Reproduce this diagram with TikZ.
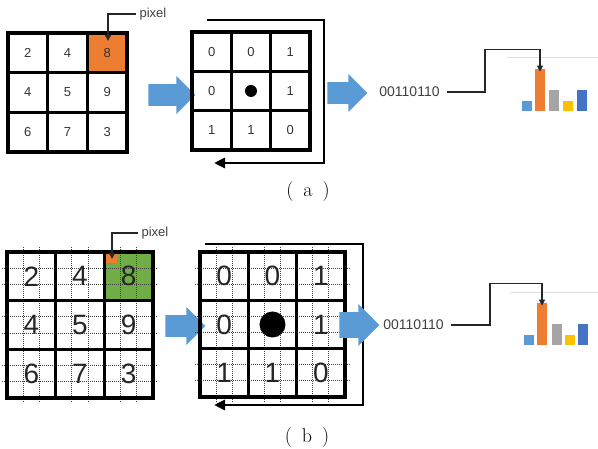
\documentclass[tikz,border=0pt]{standalone}
\usepackage{fontspec}
\setsansfont{Liberation Sans}
\usetikzlibrary{arrows.meta,shapes.arrows}
\definecolor{flowblue}{RGB}{91,155,213}
\definecolor{cellorange}{RGB}{237,125,49}
\definecolor{cellgreen}{RGB}{112,173,71}
\definecolor{bargray}{RGB}{165,165,165}
\definecolor{baryellow}{RGB}{255,192,0}
\definecolor{bardeep}{RGB}{68,114,196}
\definecolor{inkgray}{RGB}{64,64,64}

\tikzset{
  gridline/.style={line width=3.2pt, line cap=rect},
  subline/.style={densely dotted, line width=1pt, black!75},
  numsmall/.style={font=\sffamily\fontsize{13}{13}\selectfont, text=black!80},
  numbig/.style={font=\sffamily\fontsize{28}{28}\selectfont, text=black!85},
  tag/.style={font=\sffamily\fontsize{13}{13}\selectfont, text=inkgray},
  leader/.style={line width=1.6pt, black!85, -{Triangle[length=6pt,width=6pt]}},
  looparrow/.style={line width=2.8pt, -{Triangle[length=11pt,width=10pt]}},
  blockarrow/.style={single arrow, fill=flowblue, draw=none, inner xsep=0pt,
    inner ysep=9.5pt, minimum width=38pt, single arrow head indent=0pt},
  bar/.style={minimum width=10pt, inner sep=0pt, anchor=south},
  caption/.style={font=\fontsize{20}{24}\selectfont},
}

\begin{document}
\begin{tikzpicture}[x=1pt,y=-1pt]
  \useasboundingbox (0,0) rectangle (598,449);

  % ---------- (a) ----------
  % input grid
  \begin{scope}[shift={(8,33)}, x=39.67pt, y=-39.67pt]
    \fill[cellorange] (2,0) rectangle (3,1);
    \foreach \k in {0,...,3} {
      \draw[gridline] (\k,0) -- (\k,3);
      \draw[gridline] (0,\k) -- (3,\k);
    }
    \foreach \v/\c/\r in {2/0/0,4/1/0,8/2/0,4/0/1,5/1/1,9/2/1,6/0/2,7/1/2,3/2/2}
      \node[numsmall] (inA\c\r) at (\c+0.5,\r+0.5) {\v};
  \end{scope}
  % pixel label
  \node[tag] (pixA) at (153,14) {pixel};
  \coordinate (pixA tip) at (108,41);
  \draw[leader] (pixA.west) -| (pixA tip);
  % arrows
  \node[blockarrow, minimum height=47pt] (flowA1) at (166.5,95) {};
  % binary grid
  \begin{scope}[shift={(192,32)}, x=39.33pt, y=-39.33pt]
    \foreach \k in {0,...,3} {
      \draw[gridline] (\k,0) -- (\k,3);
      \draw[gridline] (0,\k) -- (3,\k);
    }
    \foreach \v/\c/\r in {0/0/0,0/1/0,1/2/0,0/0/1,1/2/1,1/0/2,1/1/2,0/2/2}
      \node[numsmall] (binA\c\r) at (\c+0.5,\r+0.5) {\v};
    \fill (1.5,1.5) circle (6pt);
  \end{scope}
  % reading order
  \coordinate (loopA in) at (207,20);
  \coordinate (loopA out) at (214,163);
  \draw[looparrow] (loopA in) -| (324,163) -- (loopA out);
  \node[blockarrow, minimum height=40pt] (flowA2) at (342,93) {};
  % code and histogram
  \node[tag, font=\sffamily\fontsize{14}{14}\selectfont] (codeA) at (409.5,92) {00110110};
  \draw[black!12, line width=0.6pt] (507,57) -- (598,57);
  \node[bar, fill=flowblue, minimum height=10pt] (barA1) at (527,111) {};
  \node[bar, fill=cellorange, minimum height=42pt] (barA2) at (540,111) {};
  \node[bar, fill=bargray, minimum height=21pt] (barA3) at (554,111) {};
  \node[bar, fill=baryellow, minimum height=10pt] (barA4) at (568,111) {};
  \node[bar, fill=bardeep, minimum height=21pt] (barA5) at (582,111) {};
  \draw[leader] ([xshift=4pt]codeA.east) -- ++(38,0) |- ([yshift=19pt]barA2.north) -- ([yshift=-3pt]barA2.north);
  \node[caption] (capA) at (308,192) {(\hspace{10pt}a\hspace{10pt})};

  % ---------- (b) ----------
  % input grid with sub-pixels
  \begin{scope}[shift={(7,252)}, x=48.67pt, y=-48.67pt]
    \fill[cellgreen] (2,0) rectangle (3,1);
    \foreach \k in {1,2,4,5,7,8} {
      \draw[subline] (\k/3,-0.1) -- (\k/3,3.1);
      \draw[subline] (-0.1,\k/3) -- (3.1,\k/3);
    }
    \fill[cellorange] (2,0) rectangle (2.25,0.23);
    \foreach \k in {0,...,3} {
      \draw[gridline] (\k,0) -- (\k,3);
      \draw[gridline] (0,\k) -- (3,\k);
    }
    \foreach \v/\c/\r in {2/0/0,4/1/0,8/2/0,4/0/1,5/1/1,9/2/1,6/0/2,7/1/2,3/2/2}
      \node[numbig] (inB\c\r) at (\c+0.5,\r+0.5) {\v};
  \end{scope}
  \node[tag] (pixB) at (155,233) {pixel};
  \coordinate (pixB tip) at (112,259);
  \draw[leader] (pixB.west) -| (pixB tip);
  \node[blockarrow, minimum height=40pt] (flowB1) at (180,326) {};
  % binary grid with sub-pixels
  \begin{scope}[shift={(200,252)}, x=48.33pt, y=-48.33pt]
    \foreach \k in {1,2,4,5,7,8} {
      \draw[subline] (\k/3,-0.1) -- (\k/3,3.1);
      \draw[subline] (-0.1,\k/3) -- (3.1,\k/3);
    }
    \foreach \k in {0,...,3} {
      \draw[gridline] (\k,0) -- (\k,3);
      \draw[gridline] (0,\k) -- (3,\k);
    }
    \foreach \v/\c/\r in {0/0/0,0/1/0,1/2/0,0/0/1,1/2/1,1/0/2,1/1/2,0/2/2}
      \node[numbig] (binB\c\r) at (\c+0.5,\r+0.5) {\v};
    \fill (1.5,1.5) circle (13pt);
  \end{scope}
  \coordinate (loopB in) at (205,244);
  \coordinate (loopB out) at (214,405);
  \draw[looparrow] (loopB in) -| (363,405) -- (loopB out);
  \node[blockarrow, minimum height=40pt, inner ysep=11pt, minimum width=42pt] (flowB2) at (353,325) {};
  % code and histogram
  \node[tag, font=\sffamily\fontsize{14}{14}\selectfont] (codeB) at (413.5,325) {00110110};
  \draw[black!12, line width=0.6pt] (510,292) -- (598,292);
  \node[bar, fill=flowblue, minimum height=10pt] (barB1) at (529,345) {};
  \node[bar, fill=cellorange, minimum height=42pt] (barB2) at (542,345) {};
  \node[bar, fill=bargray, minimum height=21pt] (barB3) at (557,345) {};
  \node[bar, fill=baryellow, minimum height=10pt] (barB4) at (569.5,345) {};
  \node[bar, fill=bardeep, minimum height=21pt] (barB5) at (583,345) {};
  \draw[leader] ([xshift=4pt]codeB.east) -- ++(39,0) |- ([yshift=19pt]barB2.north) -- ([yshift=-3pt]barB2.north);
  \node[caption] (capB) at (307,438) {(\hspace{10pt}b\hspace{10pt})};
\end{tikzpicture}
\end{document}
